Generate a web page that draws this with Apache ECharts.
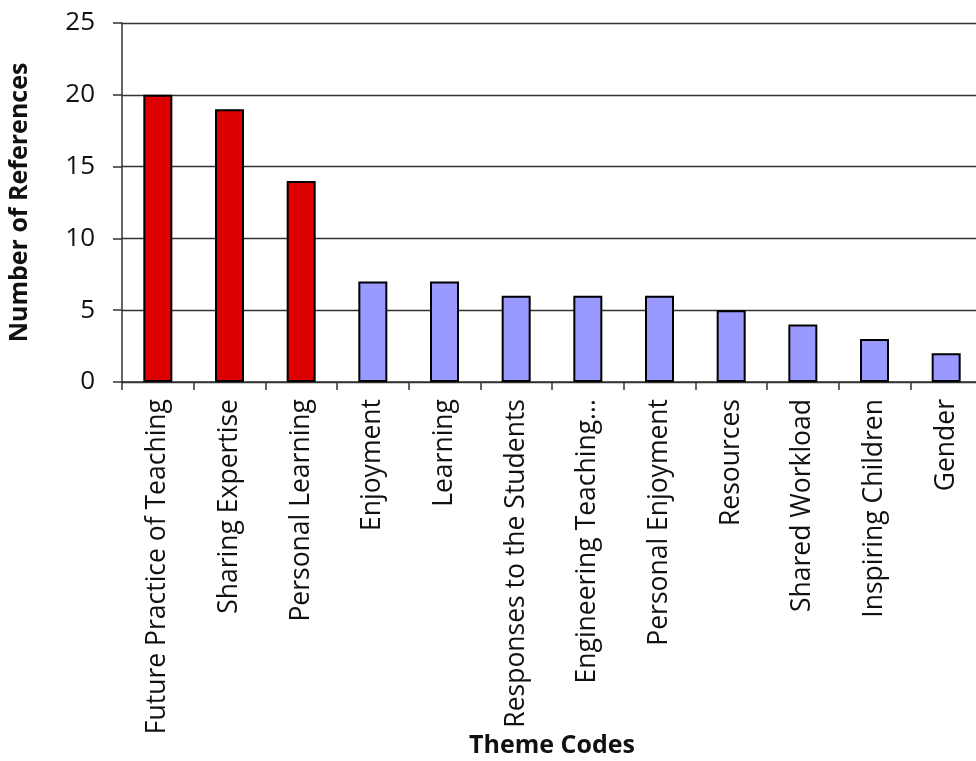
<!DOCTYPE html>
<html><head><meta charset="utf-8">
<script src="https://cdn.jsdelivr.net/npm/echarts@6/dist/echarts.min.js"></script>
<style>html,body{margin:0;padding:0;background:#fff}#c{width:976px;height:761px}</style>
</head><body><div id="c"></div>
<script>
const categories = ["Future Practice of Teaching","Sharing Expertise","Personal Learning","Enjoyment","Learning","Responses to the Students","Engineering Teaching...","Personal Enjoyment","Resources","Shared Workload","Inspiring Children","Gender"];
const values = [20,19,14,7,7,6,6,6,5,4,3,2];
const highlighted = [true,true,true,false,false,false,false,false,false,false,false,false];
const yTicks = [0,5,10,15,20,25];

const chart = echarts.init(document.getElementById('c'));
chart.setOption({
  animation:false,
  grid:{left:122,top:23,bottom:379,right:-6,containLabel:false,outerBoundsMode:'none'},
  xAxis:{type:'category',data:categories,
    name:'Theme Codes',nameLocation:'middle',nameGap:351,nameMoveOverlap:false,
    nameTextStyle:{fontFamily:'Open Sans',fontWeight:'bold',fontSize:25,color:'#111'},
    axisLine:{lineStyle:{color:'#333',width:1.5}},
    axisTick:{show:true,alignWithLabel:false,length:8,lineStyle:{color:'#333',width:1.5}},
    axisLabel:{rotate:90,margin:17,interval:0,fontFamily:'Open Sans',fontSize:26.5,color:'#111'}},
  yAxis:{type:'value',min:yTicks[0],max:yTicks[yTicks.length-1],interval:5,
    name:'Number of References',nameLocation:'middle',nameGap:90,nameRotate:90,nameMoveOverlap:false,
    nameTextStyle:{fontFamily:'Open Sans',fontWeight:'bold',fontSize:25,color:'#111'},
    axisLine:{show:true,lineStyle:{color:'#333',width:1.5}},
    axisTick:{show:true,length:9,lineStyle:{color:'#333',width:1.5}},
    axisLabel:{margin:27,fontFamily:'Open Sans',fontSize:26,color:'#111'},
    splitLine:{show:true,lineStyle:{color:'#333',width:1.3}}},
  series:[{type:'bar',barWidth:29,
    data:values.map((v,i)=>({value:v,itemStyle:{color:highlighted[i]?'#dd0000':'#9999ff'}})),
    itemStyle:{borderColor:'#000',borderWidth:2}}]
});
</script></body></html>
